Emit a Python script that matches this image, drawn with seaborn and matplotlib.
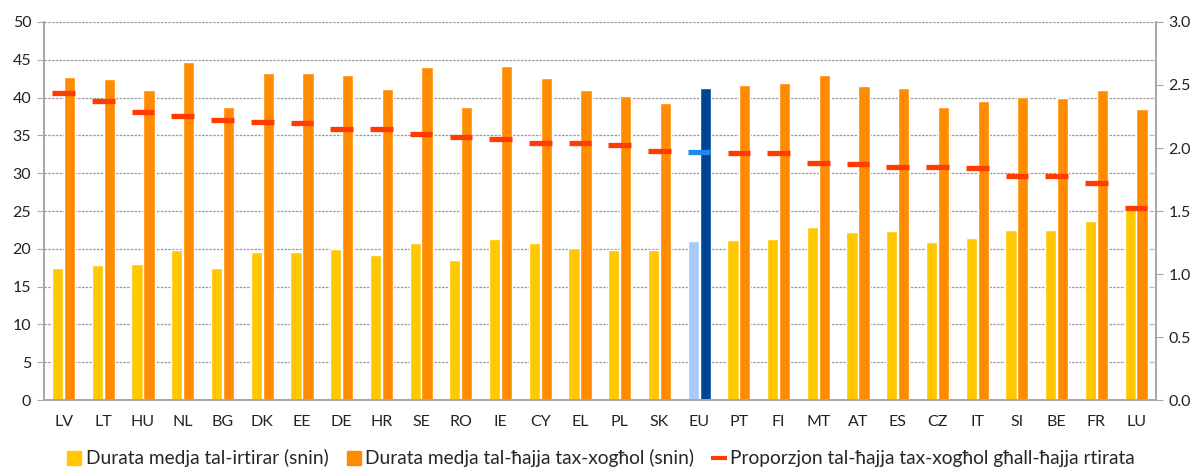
import numpy as np
import pandas as pd
import matplotlib
matplotlib.use("Agg")
import matplotlib.pyplot as plt
from matplotlib.lines import Line2D
import seaborn as sns

# Data
countries = ["LV", "LT", "HU", "NL", "BG", "DK", "EE", "DE", "HR", "SE", "RO", "IE", "CY", "EL",
             "PL", "SK", "EU", "PT", "FI", "MT", "AT", "ES", "CZ", "IT", "SI", "BE", "FR", "LU"]
retirement_years = [17.5, 17.9, 18.0, 19.9, 17.5, 19.6, 19.6, 20.0, 19.2, 20.8, 18.5, 21.3, 20.8, 20.1,
                    19.9, 19.8, 21.0, 21.1, 21.3, 22.9, 22.2, 22.3, 20.9, 21.4, 22.5, 22.5, 23.7, 25.3]
working_years = [42.7, 42.4, 41.0, 44.7, 38.8, 43.3, 43.2, 43.0, 41.2, 44.0, 38.7, 44.2, 42.6, 41.0,
                 40.2, 39.3, 41.3, 41.7, 41.9, 43.0, 41.5, 41.3, 38.7, 39.6, 40.1, 40.0, 41.0, 38.5]
ratio = [2.44, 2.37, 2.285, 2.25, 2.22, 2.21, 2.20, 2.15, 2.15, 2.11, 2.09, 2.07, 2.04, 2.04,
         2.02, 1.98, 1.97, 1.96, 1.96, 1.88, 1.87, 1.85, 1.85, 1.84, 1.78, 1.78, 1.72, 1.52]

lbl_ret = "Durata medja tal-irtirar (snin)"
lbl_work = "Durata medja tal-ħajja tax-xogħol (snin)"
lbl_ratio = "Proporzjon tal-ħajja tax-xogħol għall-ħajja rtirata"

c_yellow = "#FFC800"
c_orange = "#FF8C00"
c_red = "#FF3C00"
c_eu_light = "#A6CBFA"
c_eu_dark = "#004494"
c_eu_marker = "#2288EE"
axis_grey = "#A6A6A6"

sns.set_style("white")
plt.rcParams["font.family"] = ["Lato", "DejaVu Sans"]

df = pd.DataFrame({
    "country": countries * 2,
    "value": retirement_years + working_years,
    "series": [lbl_ret] * len(countries) + [lbl_work] * len(countries),
})

fig = plt.figure(figsize=(12.02, 4.69), dpi=100)
ax = fig.add_axes([0.0364, 0.1471, 0.9253, 0.806])

sns.barplot(data=df, x="country", y="value", hue="series", order=countries,
            hue_order=[lbl_ret, lbl_work], palette=[c_yellow, c_orange],
            width=0.6, gap=0.06, saturation=1, legend=False, ax=ax)

eu = countries.index("EU")
ax.containers[0][eu].set_facecolor(c_eu_light)
ax.containers[1][eu].set_facecolor(c_eu_dark)

ax.set_ylim(0, 50)
ax.set_xlim(-0.5, len(countries) - 0.5)
ax.set_yticks(np.arange(0, 51, 5))
ax.yaxis.grid(True, linestyle=(0, (2, 1)), color="#9A9A9A", linewidth=0.9)
ax.set_axisbelow(True)
ax.set_xlabel("")
ax.set_ylabel("")

# ratio markers on secondary axis
ax2 = ax.twinx()
pos = np.arange(len(countries))
marker_colors = [c_eu_marker if c == "EU" else c_red for c in countries]
ax2.scatter(pos, ratio, marker="_", s=265, linewidths=3.8, c=marker_colors, zorder=5)
ax2.set_ylim(0, 3)
ax2.set_yticks(np.arange(0, 3.01, 0.5))
ax2.set_yticklabels([f"{v:.1f}" for v in np.arange(0, 3.01, 0.5)])
ax2.set_xlim(-0.5, len(countries) - 0.5)

for a in (ax, ax2):
    a.spines["top"].set_visible(False)
    for s in ("left", "right", "bottom"):
        a.spines[s].set_color(axis_grey)
        a.spines[s].set_linewidth(1.2)

ax.tick_params(axis="y", length=5, color=axis_grey, labelsize=11.5, labelcolor="#222222", pad=4)
ax2.tick_params(axis="y", length=5, color=axis_grey, labelsize=11.5, labelcolor="#222222", pad=4)
ax.set_xticks(pos)
ax.set_xticklabels(countries)
ax.tick_params(axis="x", length=0, labelsize=11.5, labelcolor="#222222", pad=11)
ax.set_xticks(np.arange(-0.5, len(countries)), minor=True)
ax.tick_params(axis="x", which="minor", length=5, color=axis_grey, width=1.2)

handles = [
    Line2D([], [], marker="s", linestyle="none", markersize=10, color=c_yellow),
    Line2D([], [], marker="s", linestyle="none", markersize=10, color=c_orange),
    Line2D([], [], marker="_", linestyle="none", markersize=11, markeredgewidth=3, color=c_red),
]
fig.legend(handles, [lbl_ret, lbl_work, lbl_ratio], loc="center", bbox_to_anchor=(0.5, 0.023),
           ncol=3, frameon=False, fontsize=13.8, handlelength=0.8, handletextpad=0.2,
           columnspacing=0.9)

fig.savefig("out.png", dpi=100)
